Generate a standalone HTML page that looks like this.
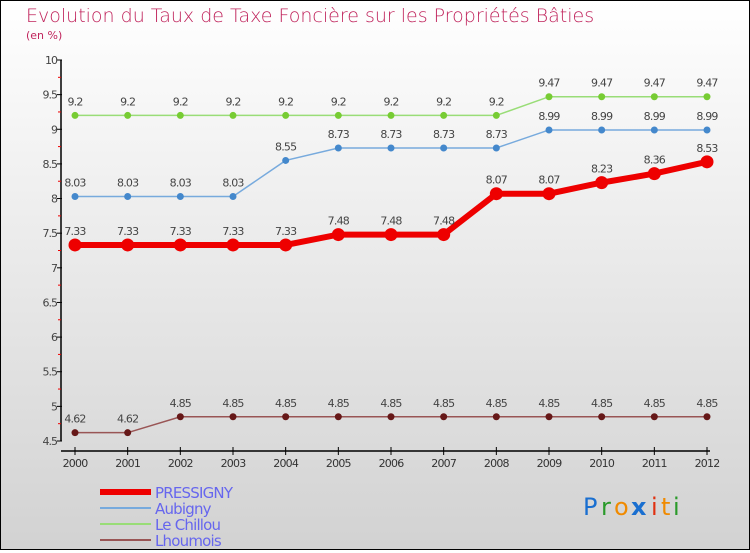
<!DOCTYPE html>
<html><head><meta charset="utf-8"><style>
html,body{margin:0;padding:0}
body{width:750px;height:550px;overflow:hidden;font-family:"DejaVu Sans","Liberation Sans",sans-serif}
#wrap{position:relative;width:748px;height:548px;border:1px solid #000;background:linear-gradient(#ffffff,#d2d2d2)}
</style></head><body>
<div id="wrap">
<svg id="chart" width="748" height="548" viewBox="1 1 748 548" xmlns="http://www.w3.org/2000/svg">
<text x="26" y="22" font-size="19" fill="#c0245c" font-family="DejaVu Sans, sans-serif" font-weight="200">Evolution du Taux de Taxe Foncière sur les Propriétés Bâties</text>
<text x="26" y="39" font-size="11" fill="#c0245c">(en %)</text>
<g id="axes"></g>
<g id="series"></g>
<g id="legend"></g>
<g font-family="DejaVu Sans, sans-serif" font-size="24">
<text x="583" y="515" fill="#1a6fd0">P</text><text x="601" y="515" fill="#2a9a2a">r</text><text x="614" y="515" fill="#f08a00">o</text><text x="631" y="515" fill="#1a6fd0" font-weight="bold">x</text><text x="651" y="515" fill="#e03010">i</text><text x="661" y="515" fill="#f08a00">t</text><text x="673" y="515" fill="#2a9a2a">i</text>
</g>
</svg>
</div>
<script>
const years=[2000,2001,2002,2003,2004,2005,2006,2007,2008,2009,2010,2011,2012];
const pressigny=[7.33,7.33,7.33,7.33,7.33,7.48,7.48,7.48,8.07,8.07,8.23,8.36,8.53];
const aubigny=[8.03,8.03,8.03,8.03,8.55,8.73,8.73,8.73,8.73,8.99,8.99,8.99,8.99];
const chillou=[9.2,9.2,9.2,9.2,9.2,9.2,9.2,9.2,9.2,9.47,9.47,9.47,9.47];
const lhoumois=[4.62,4.62,4.85,4.85,4.85,4.85,4.85,4.85,4.85,4.85,4.85,4.85,4.85];
const yTicks=[4.5,5,5.5,6,6.5,7,7.5,8,8.5,9,9.5,10];
const NS="http://www.w3.org/2000/svg";
const xs=i=>75+i*(707-75)/(years.length-1);
const ys=v=>60+(10-v)*(441-60)/5.5;
function mk(t,a,p){const e=document.createElementNS(NS,t);for(const k in a)e.setAttribute(k,a[k]);p.appendChild(e);return e;}
const ax=document.getElementById('axes');
const yl=mk('line',{x1:61,y1:60,x2:61,y2:441,stroke:'#000','stroke-width':1.5},ax);


yTicks.forEach(v=>{
 mk('line',{x1:57,x2:62,y1:ys(v),y2:ys(v),stroke:'#000'},ax);
 mk('line',{x1:58,x2:61,y1:ys(v+0.25),y2:ys(v+0.25),stroke:v<10?'#e00':'none'},ax);
 const t=mk('text',{x:57,y:ys(v)+4,'text-anchor':'end','font-size':11,fill:'#444','letter-spacing':'-1'},ax);
 t.textContent=String(v);
 
 
});
const xl=mk('line',{x1:61,y1:451,x2:710,y2:451,stroke:'#000','stroke-width':1.5},ax);


years.forEach((y,i)=>{
 mk('line',{x1:xs(i),x2:xs(i),y1:447,y2:455,stroke:'#000'},ax);
 const t=mk('text',{x:xs(i),y:467,'text-anchor':'middle','font-size':11,fill:'#333','letter-spacing':'-0.8'},ax);
 t.textContent=y;
 
 
});
const sg=document.getElementById('series');
function draw(name,vals,color,w,r,dot){
 const g=mk('g',{},sg);
 
 
 mk('polyline',{points:vals.map((v,i)=>xs(i)+','+ys(v)).join(' '),fill:'none',stroke:color,'stroke-width':w},g);
 vals.forEach((v,i)=>{
  const c=mk('circle',{cx:xs(i),cy:ys(v),r:r,fill:dot},g);
  
  
  const t=mk('text',{x:xs(i),y:ys(v)-10,'text-anchor':'middle','font-size':11,fill:'#444','letter-spacing':'-0.8'},g);
  t.textContent=String(v);
  
  
 });
}
draw('le-chillou',chillou,'#99dd77',1.5,3.5,'#77cc33');
draw('aubigny',aubigny,'#77aadd',1.5,3.5,'#4488cc');
draw('lhoumois',lhoumois,'#995555',1.5,3.5,'#661818');
draw('pressigny',pressigny,'#ee0000',6,6.5,'#ee0000');
const lg=document.getElementById('legend');
[['PRESSIGNY','#ee0000',6],['Aubigny','#77aadd',2],['Le Chillou','#99dd77',2],['Lhoumois','#995555',2]].forEach((d,i)=>{
 const y=492+i*16;
 const g=mk('g',{},lg);
 
 
 mk('line',{x1:100,x2:151,y1:y,y2:y,stroke:d[1],'stroke-width':d[2]},g);
 const t=mk('text',{x:155,y:y+6,'font-size':15,fill:'#6666ee','letter-spacing':'-0.8'},g);
 t.textContent=d[0];
});
</script>
</body></html>
